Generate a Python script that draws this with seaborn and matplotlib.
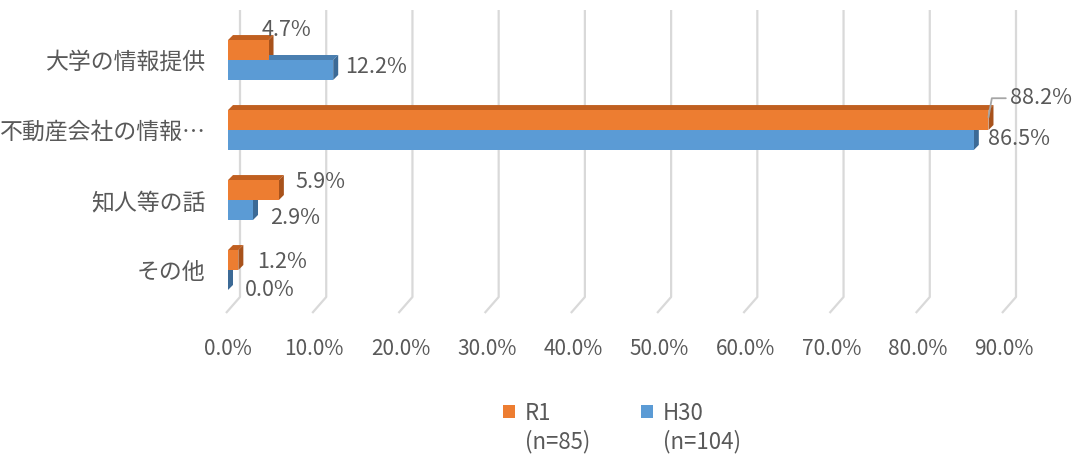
import numpy as np
import pandas as pd
import matplotlib
matplotlib.use('Agg')
import matplotlib.pyplot as plt
import seaborn as sns
from matplotlib.patches import Polygon, Patch
from matplotlib.transforms import ScaledTranslation

categories = ['大学の情報提供', '不動産会社の情報…', '知人等の話', 'その他']
r1_values = [4.7, 88.2, 5.9, 1.2]
h30_values = [12.2, 86.5, 2.9, 0.0]
series_names = ['R1', 'H30']
series_notes = ['(n=85)', '(n=104)']
x_ticks = np.arange(0, 91, 10)

df = pd.DataFrame({
    'category': categories * 2,
    'value': r1_values + h30_values,
    'series': [series_names[0]] * len(categories) + [series_names[1]] * len(categories),
})

front_colors = {'R1': '#ED7D31', 'H30': '#5B9BD5'}
top_colors = {'R1': '#C05F20', 'H30': '#4A7FB0'}
side_colors = {'R1': '#A8521B', 'H30': '#3C6A96'}
text_gray = '#595959'
grid_gray = '#D9D9D9'

# Label-Versatz in Pixeln (dx, dy nach oben), wie in der Vorlage verschoben
label_offsets = {
    'R1': [(-7, 17), (22, 19), (17, 5), (19, -5)],
    'H30': [(12, 0), (14, -2), (17, -11), (17, -13)],
}
leader_lines = {('R1', 1)}

sns.set_theme(style='white')
plt.rcParams['font.family'] = ['Noto Sans CJK JP', 'DejaVu Sans']

W, H, DPI = 1077, 457, 100
fig = plt.figure(figsize=(W / DPI, H / DPI), dpi=DPI)
ax = fig.add_axes([228 / W, 152 / H, 776 / W, 280 / H])

sns.barplot(data=df, y='category', x='value', hue='series', orient='h',
            palette=front_colors, width=0.57, saturation=1, legend=False, ax=ax)
ax.set_xlim(0, 90)
ax.set_ylim(len(categories) - 0.5, -0.5)

# Pixel -> Dateneinheiten
ax_w_px = ax.get_position().width * W
ax_h_px = ax.get_position().height * H
px_x = 90 / ax_w_px
px_y = len(categories) / ax_h_px

# Pseudo-3D: Ober- und Seitenflächen
depth_x, depth_y = 5 * px_x, 5 * px_y
for name, container in zip(series_names, ax.containers):
    for bar in container:
        bar.set_zorder(3)
        bar.set_linewidth(0)
        x0, y0 = bar.get_x(), bar.get_y()
        x1, y1 = x0 + bar.get_width(), y0 + bar.get_height()
        top = Polygon([(x0, y0), (x0 + depth_x, y0 - depth_y), (x1 + depth_x, y0 - depth_y), (x1, y0)],
                      closed=True, facecolor=top_colors[name], edgecolor='none', zorder=2)
        side = Polygon([(x1, y0), (x1 + depth_x, y0 - depth_y), (x1 + depth_x, y1 - depth_y), (x1, y1)],
                       closed=True, facecolor=side_colors[name], edgecolor='none', zorder=2)
        ax.add_patch(top)
        ax.add_patch(side)

# Gitterlinien an der Rückwand mit schrägem Boden
back = 12 * px_x
y_top = -0.5 - 15 * px_y
y_floor = len(categories) - 0.5 - 8 * px_y
y_front = len(categories) - 0.5 + 8 * px_y
for k in x_ticks:
    ax.plot([k + back, k + back, k - 2 * px_x], [y_top, y_floor, y_front],
            color=grid_gray, lw=1.6, zorder=0, clip_on=False, solid_capstyle='butt')

# Datenbeschriftungen
for name, container, values in zip(series_names, ax.containers, [r1_values, h30_values]):
    for i, (bar, v) in enumerate(zip(container, values)):
        yc = bar.get_y() + bar.get_height() / 2
        dx, dy = label_offsets[name][i]
        kw = {}
        if (name, i) in leader_lines:
            kw['arrowprops'] = dict(arrowstyle='-', color='#A6A6A6', lw=1.3, shrinkA=1, shrinkB=0,
                                    connectionstyle='angle,angleA=0,angleB=80,rad=0')
        ax.annotate(f'{v:.1f}%', xy=(v, yc - 0.04), xytext=(dx, dy), textcoords='offset pixels',
                    ha='left', va='center', fontsize=15.5, color=text_gray, zorder=5, **kw)

ax.set_xticks(x_ticks)
ax.set_xticklabels([f'{t:.1f}%' for t in x_ticks])
for lab in ax.get_xticklabels():
    lab.set_transform(lab.get_transform() + ScaledTranslation(-0.08, 0, fig.dpi_scale_trans))
ax.tick_params(axis='x', length=0, pad=24, labelsize=15, labelcolor=text_gray)
ax.tick_params(axis='y', length=0, pad=16, labelsize=16.5, labelcolor=text_gray)
ax.set_xlabel('')
ax.set_ylabel('')
for s in ax.spines.values():
    s.set_visible(False)

handles = [Patch(facecolor=front_colors[n], edgecolor='none') for n in series_names]
leg = fig.legend(handles=handles, labels=series_names, loc='center left',
                 bbox_to_anchor=(503 / W, 1 - 413 / H), ncol=2, frameon=False,
                 handlelength=0.55, handleheight=0.55, handletextpad=0.45, columnspacing=4.0,
                 fontsize=16, labelcolor=text_gray, borderpad=0, borderaxespad=0)

fig.canvas.draw()
for t, note in zip(leg.get_texts(), series_notes):
    bb = t.get_window_extent()
    fig.text(bb.x0 / W, ((bb.y0 + bb.y1) / 2 - 29) / H, note, ha='left', va='center',
             fontsize=16, color=text_gray)

fig.savefig('out.png', dpi=DPI)
